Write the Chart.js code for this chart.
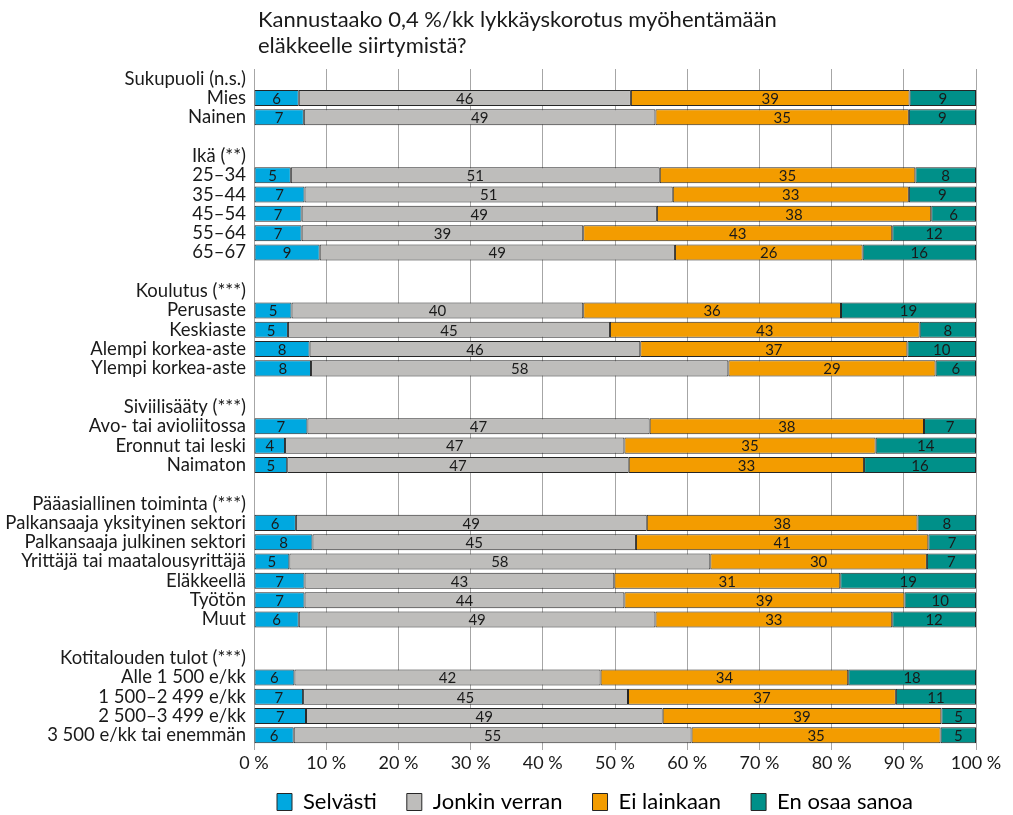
<!DOCTYPE html>
<html>
<head>
<meta charset="utf-8">
<script src="https://cdn.jsdelivr.net/npm/chart.js@4"></script>
<style>
  html, body { margin: 0; padding: 0; background: #fff; }
  #wrap { width: 1013px; height: 815px; }
</style>
</head>
<body>
<div id="wrap"><canvas id="chart" width="1013" height="815"></canvas></div>
<script>
// Kannustaako lykkäyskorotus myöhentämään eläkkeelle siirtymistä — % of respondents
const FONT = 'Lato';

const categories = [
  'Sukupuoli (n.s.)', 'Mies', 'Nainen', '',
  'Ikä (**)', '25–34', '35–44', '45–54', '55–64', '65–67', '',
  'Koulutus (***)', 'Perusaste', 'Keskiaste', 'Alempi korkea-aste', 'Ylempi korkea-aste', '',
  'Siviilisääty (***)', 'Avo- tai avioliitossa', 'Eronnut tai leski', 'Naimaton', '',
  'Pääasiallinen toiminta (***)', 'Palkansaaja yksityinen sektori', 'Palkansaaja julkinen sektori',
  'Yrittäjä tai maatalousyrittäjä', 'Eläkkeellä', 'Työtön', 'Muut', '',
  'Kotitalouden tulot (***)', 'Alle 1 500 e/kk', '1 500–2 499 e/kk', '2 500–3 499 e/kk', '3 500 e/kk tai enemmän'
];

// null = group header or spacer row
const selvasti = [null, 6.2, 6.9, null,
  null, 5.1, 7.0, 6.6, 6.6, 9.1, null,
  null, 5.2, 4.7, 7.7, 7.9, null,
  null, 7.4, 4.3, 4.6, null,
  null, 5.8, 8.1, 4.9, 7.0, 7.0, 6.2, null,
  null, 5.6, 6.8, 7.2, 5.5];
const jonkinVerran = [null, 46.0, 48.7, null,
  null, 51.1, 51.0, 49.2, 39.0, 49.2, null,
  null, 40.4, 44.6, 45.8, 57.8, null,
  null, 47.4, 47.0, 47.3, null,
  null, 48.6, 44.8, 58.3, 42.9, 44.3, 49.4, null,
  null, 42.4, 45.0, 49.4, 55.1];
const eiLainkaan = [null, 38.6, 35.1, null,
  null, 35.4, 32.7, 38.0, 42.8, 26.0, null,
  null, 35.7, 42.9, 37.0, 28.7, null,
  null, 38.0, 34.8, 32.6, null,
  null, 37.5, 40.5, 30.0, 31.3, 38.8, 32.8, null,
  null, 34.3, 37.1, 38.6, 34.5];
const enOsaaSanoa = [null, 9.2, 9.3, null,
  null, 8.4, 9.3, 6.2, 11.6, 15.7, null,
  null, 18.7, 7.8, 9.5, 5.6, null,
  null, 7.2, 13.9, 15.5, null,
  null, 8.1, 6.6, 6.8, 18.8, 9.9, 11.6, null,
  null, 17.7, 11.1, 4.8, 4.9];

const seriesNames = ['Selvästi', 'Jonkin verran', 'Ei lainkaan', 'En osaa sanoa'];
const seriesColors = ['#00a8e0', '#bebdbb', '#f39c00', '#009089'];
const titleLines = ['Kannustaako 0,4 %/kk lykkäyskorotus myöhentämään', 'eläkkeelle siirtymistä?'];

const titlePlugin = {
  id: 'leftTitle',
  afterDraw(chart) {
    const c = chart.ctx;
    c.save();
    c.fillStyle = '#1a1a1a';
    c.font = `22px ${FONT}`;
    c.textBaseline = 'alphabetic';
    c.textAlign = 'left';
    titleLines.forEach((t, i) => c.fillText(t, chart.chartArea.left + 4, 27 + i * 26));
    c.restore();
  }
};

const barLabels = {
  id: 'barLabels',
  afterDatasetsDraw(chart) {
    const c = chart.ctx;
    c.save();
    c.font = `15px ${FONT}`;
    c.fillStyle = '#1a1a1a';
    c.textAlign = 'center';
    c.textBaseline = 'middle';
    chart.data.datasets.forEach((ds, di) => {
      chart.getDatasetMeta(di).data.forEach((el, i) => {
        const v = ds.data[i];
        if (v == null) return;
        c.fillText(Math.round(v), (el.x + el.base) / 2, el.y + 1);
      });
    });
    c.restore();
  }
};

// legend: wide gaps between items but a short box, placed under the plot
const LEGEND_H = 36;
const legendFix = {
  id: 'legendFix',
  beforeLayout(chart) {
    const lg = chart.legend;
    if (lg && !lg._fixed) {
      const fit = lg.fit.bind(lg);
      lg.fit = function () { fit(); this.height = LEGEND_H; };
      lg._fixed = true;
    }
  },
  afterLayout(chart) {
    const lg = chart.legend;
    if (!lg) return;
    const w = lg.right - lg.left;
    lg.left = 247;
    lg.right = lg.left + w;
    lg.top -= 18;
    lg.bottom = chart.height;
  }
};

new Chart(document.getElementById('chart'), {
  type: 'bar',
  data: {
    labels: categories,
    datasets: [selvasti, jonkinVerran, eiLainkaan, enOsaaSanoa].map((d, i) => ({
      label: seriesNames[i],
      data: d,
      backgroundColor: seriesColors[i],
      borderColor: '#262626',
      borderWidth: 1,
      borderSkipped: false,
      barPercentage: 0.83,
      categoryPercentage: 1
    }))
  },
  options: {
    indexAxis: 'y',
    responsive: false,
    animation: false,
    layout: { padding: { top: 69, right: 37, bottom: 0, left: 0 } },
    plugins: {
      legend: {
        position: 'bottom',
        align: 'start',
        labels: {
          font: { family: FONT, size: 22 },
          color: '#1a1a1a',
          boxWidth: 15,
          boxHeight: 17,
          padding: 30,
          generateLabels(chart) {
            return chart.data.datasets.map((ds, i) => ({
              text: ds.label,
              fillStyle: ds.backgroundColor,
              strokeStyle: '#262626',
              lineWidth: 1,
              datasetIndex: i
            }));
          }
        }
      },
      tooltip: { enabled: false }
    },
    scales: {
      x: {
        stacked: true,
        min: 0,
        max: 100,
        afterFit: (s) => { s.height = 34; },
        grid: { color: '#a6a6a6', lineWidth: 1, tickLength: 5, drawTicks: true },
        border: { display: false },
        ticks: {
          stepSize: 10,
          padding: 2,
          font: { family: FONT, size: 18 },
          color: '#1a1a1a',
          callback: (v) => v + ' %'
        }
      },
      y: {
        stacked: true,
        afterFit: (s) => { s.width = 254; },
        grid: { display: false, drawTicks: false },
        border: { display: false },
        ticks: {
          autoSkip: false,
          padding: 8,
          font: { family: FONT, size: 18.5 },
          color: '#1a1a1a'
        }
      }
    }
  },
  plugins: [titlePlugin, barLabels, legendFix]
});
</script>
</body>
</html>
